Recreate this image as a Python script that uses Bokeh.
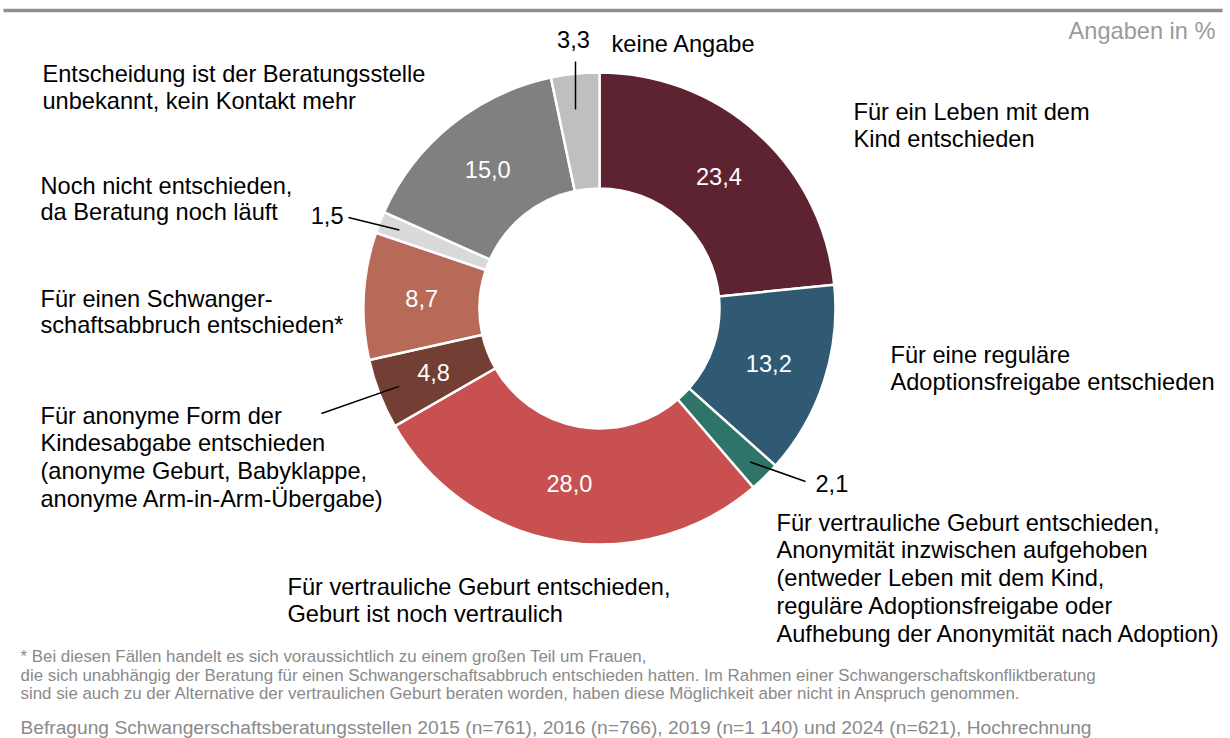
import math
from bokeh.plotting import figure
from bokeh.models import Range1d
from bokeh.core.properties import value
from bokeh.embed import file_html
from bokeh.resources import INLINE

# ---------------- data ----------------
categories = [
    "Für ein Leben mit dem Kind entschieden",
    "Für eine reguläre Adoptionsfreigabe entschieden",
    "Für vertrauliche Geburt entschieden, Anonymität inzwischen aufgehoben",
    "Für vertrauliche Geburt entschieden, Geburt ist noch vertraulich",
    "Für anonyme Form der Kindesabgabe entschieden",
    "Für einen Schwangerschaftsabbruch entschieden*",
    "Noch nicht entschieden, da Beratung noch läuft",
    "Entscheidung ist der Beratungsstelle unbekannt, kein Kontakt mehr",
    "keine Angabe",
]
values = [23.4, 13.2, 2.1, 28.0, 4.8, 8.7, 1.5, 15.0, 3.3]
colors = ["#5E2330", "#305A74", "#2E7468", "#C85050", "#733E33",
          "#B86A59", "#D9D9D9", "#808080", "#BFBFBF"]
label_lines = [
    ["Für ein Leben mit dem", "Kind entschieden"],
    ["Für eine reguläre", "Adoptionsfreigabe entschieden"],
    ["Für vertrauliche Geburt entschieden,", "Anonymität inzwischen aufgehoben",
     "(entweder Leben mit dem Kind,", "reguläre Adoptionsfreigabe oder",
     "Aufhebung der Anonymität nach Adoption)"],
    ["Für vertrauliche Geburt entschieden,", "Geburt ist noch vertraulich"],
    ["Für anonyme Form der", "Kindesabgabe entschieden",
     "(anonyme Geburt, Babyklappe,", "anonyme Arm-in-Arm-Übergabe)"],
    ["Für einen Schwanger-", "schaftsabbruch entschieden*"],
    ["Noch nicht entschieden,", "da Beratung noch läuft"],
    ["Entscheidung ist der Beratungsstelle", "unbekannt, kein Kontakt mehr"],
    ["keine Angabe"],
]
unit_note = "Angaben in %"
footnote_lines = [
    "* Bei diesen Fällen handelt es sich voraussichtlich zu einem großen Teil um Frauen,",
    "die sich unabhängig der Beratung für einen Schwangerschaftsabbruch entschieden hatten. Im Rahmen einer Schwangerschaftskonfliktberatung",
    "sind sie auch zu der Alternative der vertraulichen Geburt beraten worden, haben diese Möglichkeit aber nicht in Anspruch genommen.",
]
source_line = "Befragung Schwangerschaftsberatungsstellen 2015 (n=761), 2016 (n=766), 2019 (n=1 140) und 2024 (n=621), Hochrechnung"

# ---------------- layout ----------------
W, H = 1230, 738
FONT = value("Liberation Sans")
FS = "23.6px"


def Y(yp):
    # page pixel row -> data y
    return H - yp


CX, CY = 599, Y(308)
R_OUT, R_IN = 236, 120
R_LAB = 178
R_LEAD = 215

# label positions (left x, first line centre y in page pixels, line step)
label_pos = [
    (853, 111, 27.5),
    (890, 354, 27.5),
    (776, 522, 27.8),
    (287, 586, 27.5),
    (40, 415, 27.8),
    (40, 298, 26.5),
    (40, 185, 26.5),
    (42, 73, 27),
    (611, 43, 27),
]
# outer ends of leader lines for small slices (page pixels) and value text anchor
leader_out = {2: (805, 481), 6: (348, 217), 8: (575, 61)}
value_out = {2: (815, 483, "left"), 6: (343, 215, "right"), 8: (573, 39, "center")}

p = figure(width=W, height=H, output_backend="svg", toolbar_location=None,
           x_range=Range1d(0, W), y_range=Range1d(0, H),
           min_border=0, outline_line_color=None)
p.axis.visible = False
p.grid.visible = False
p.background_fill_color = "white"
p.border_fill_color = "white"

# top rule
p.line(x=[3, 1222], y=[Y(10), Y(10)], line_color="#8F8F8F", line_width=3.5)

# wedges
total = sum(values)
cum = 0.0
starts, ends, mids = [], [], []
for v in values:
    a0 = math.pi / 2 - 2 * math.pi * cum / total
    cum += v
    a1 = math.pi / 2 - 2 * math.pi * cum / total
    starts.append(a0)
    ends.append(a1)
    mids.append((a0 + a1) / 2)

p.annular_wedge(x=[CX] * len(values), y=[CY] * len(values),
                inner_radius=R_IN, outer_radius=R_OUT,
                start_angle=starts, end_angle=ends, direction="clock",
                fill_color=colors, line_color="white", line_width=2.5)


def fmt(v):
    return f"{v:.1f}".replace(".", ",")


# value labels
for i, v in enumerate(values):
    if i in leader_out:
        if i == 8:
            p.line(x=[leader_out[i][0], leader_out[i][0]],
                   y=[Y(leader_out[i][1]), CY + 200 * math.sin(mids[i])],
                   line_color="black", line_width=1.5)
        else:
            xi = CX + R_LEAD * math.cos(mids[i])
            yi = CY + R_LEAD * math.sin(mids[i])
            xo, yo = leader_out[i]
            p.line(x=[xo, xi], y=[Y(yo), yi], line_color="black", line_width=1.5)
        tx, ty, al = value_out[i]
        p.text(x=[tx], y=[Y(ty)], text=[fmt(v)], text_font=FONT,
               text_font_size=FS, text_color="black", text_align=al,
               text_baseline="middle")
    else:
        p.text(x=[CX + R_LAB * math.cos(mids[i])], y=[CY + R_LAB * math.sin(mids[i])],
               text=[fmt(v)], text_font=FONT, text_font_size=FS,
               text_color="white", text_align="center", text_baseline="middle")

# leader for 4,8
i48 = 4
p.line(x=[321, CX + R_LEAD * math.cos(mids[i48])],
       y=[Y(413), CY + R_LEAD * math.sin(mids[i48])],
       line_color="black", line_width=1.5)

# category labels
for lines, (lx, ly, step) in zip(label_lines, label_pos):
    for k, t in enumerate(lines):
        p.text(x=[lx], y=[Y(ly + k * step)], text=[t], text_font=FONT,
               text_font_size=FS, text_color="black", text_align="left",
               text_baseline="middle")

# unit note
p.text(x=[1215], y=[Y(30)], text=[unit_note], text_font=FONT, text_font_size=FS,
       text_color="#9A9A9A", text_align="right", text_baseline="middle")

# footnotes
for k, t in enumerate(footnote_lines):
    p.text(x=[20], y=[Y(656 + k * 18.7)], text=[t], text_font=FONT,
           text_font_size="16.9px", text_color="#8A8A8A", text_align="left",
           text_baseline="middle")
p.text(x=[20], y=[Y(727)], text=[source_line], text_font=FONT,
       text_font_size="19.2px", text_color="#8A8A8A", text_align="left",
       text_baseline="middle")

open("out.html", "w").write(file_html(p, INLINE))
